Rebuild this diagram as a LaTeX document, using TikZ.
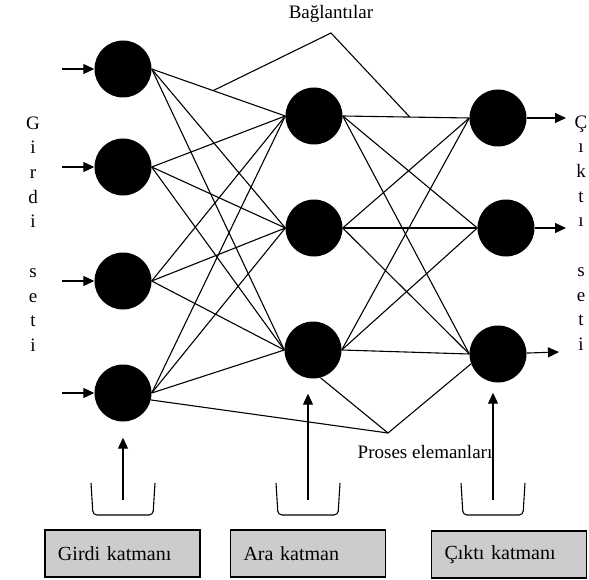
\documentclass[tikz,border=0pt]{standalone}
\usepackage{fontspec}
\setmainfont{Liberation Serif}
\usetikzlibrary{arrows.meta,positioning,calc}

\begin{document}
\begin{tikzpicture}[
  x=1bp, y=-1bp,
  font=\fontsize{19bp}{24.7bp}\selectfont,
  neur/.style = {circle, fill=black, minimum size=57bp, inner sep=0pt},
  lnk/.style  = {line width=1.1bp},
  arr/.style  = {-{Triangle[length=11bp,width=10bp]}, line width=1.1bp},
  cup/.style  = {line width=1.1bp, rounded corners=4bp},
  lbox/.style = {draw, line width=1.2bp, fill=black!20, minimum height=47bp,
                 text width=129bp, inner xsep=13bp, align=left,
                 font=\fontsize{20bp}{24bp}\selectfont},
  vtxt/.style = {align=center, inner sep=0pt}
]
\useasboundingbox (0,0) rectangle (589,580);
%% -- Neurons --
\node[neur] (in1) at (123,69)  {};
\node[neur] (in2) at (123,167) {};
\node[neur] (in3) at (123,281) {};
\node[neur] (in4) at (123,393) {};
\node[neur] (hd1) at (314,116) {};
\node[neur] (hd2) at (314,228) {};
\node[neur] (hd3) at (313,350) {};
\node[neur] (ot1) at (498,118) {};
\node[neur] (ot2) at (506,228) {};
\node[neur] (ot3) at (498,354) {};
%% -- Links --
\foreach \i in {1,...,4}{
  \foreach \j in {1,2,3}{
    \draw[lnk] (in\i.east) -- (hd\j.west);}}
\foreach \i in {1,2,3}{
  \foreach \j in {1,2,3}{
    \draw[lnk] (hd\i.east) -- (ot\j.west);}}
%% -- Inputs and outputs --
\foreach \i in {1,...,4}{
  \coordinate (src\i) at ([xshift=-32bp]in\i.west);
  \draw[arr] (src\i) -- (in\i);}
\coordinate (dst1) at (566,118);
\coordinate (dst2) at (566,228);
\coordinate (dst3) at (559,352);
\foreach \i in {1,2,3}{
  \draw[arr] (ot\i) -- (dst\i);}
%% -- Side texts --
\node[vtxt] (gset) at (33,234) {G\\i\\r\\d\\i\\[24.7bp]s\\e\\t\\i};
\node[vtxt] (cset) at (581,233) {Ç\\ı\\k\\t\\ı\\[24.7bp]s\\e\\t\\i};
%% -- Pointer labels --
\node (bag) at (331,14) {Bağlantılar};
\coordinate (bagtip) at (331,33);
\coordinate (bagA) at ($(in1.east)!0.46!(hd1.west)$);
\coordinate (bagB) at ($(hd1.east)!0.53!(ot1.west)$);
\draw[lnk] (bagA) -- (bagtip) -- (bagB);
\node (pros) at (425,452) {Proses elemanları};
\coordinate (prostip) at (388,433);
\draw[lnk] (in4.-14) -- (prostip) -- (ot3.200);
\draw[lnk] (hd3.-75) -- (prostip);
%% -- Layer inputs --
\foreach \cx/\nd/\gap in {123/in4/16, 308/hd3/15, 493/ot3/10}{
  \draw[cup] (\cx-32,483) -- (\cx-30,515) -- (\cx+30,515) -- (\cx+32,483);
  \coordinate (cup\nd) at (\cx,500);
  \draw[arr, shorten >=\gap bp] (cup\nd) -- (cup\nd |- \nd.south);}
%% -- Layer names --
\node[lbox] (gbox) at (122.5,553.5) {Girdi katmanı};
\node[lbox] (abox) at (308,553.5)   {Ara katman};
\node[lbox] (cbox) at (509,554.5)   {Çıktı katmanı};
\end{tikzpicture}
\end{document}
